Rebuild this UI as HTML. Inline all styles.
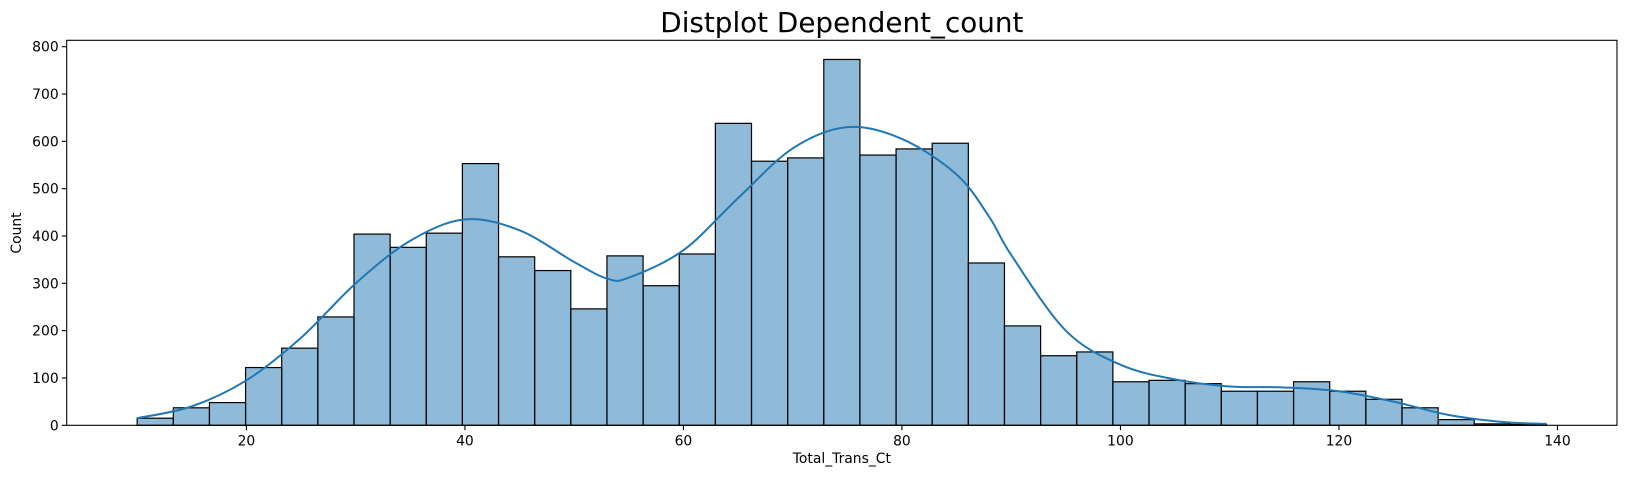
<!DOCTYPE html>
<html><head><meta charset="utf-8"><style>
html,body{margin:0;padding:0;background:#fff;}
svg{display:block;font-family:"DejaVu Sans","Liberation Sans",sans-serif;}
</style></head><body>
<svg id="chart" width="1625" height="478" viewBox="0 0 1625 478"></svg>
<script>
const binStart = 10;
const binEnd = 139;
const counts = [15,37,48,122,163,229,404,376,406,553,356,327,246,358,295,362,638,558,565,773,571,584,596,343,210,147,155,92,95,88,72,72,92,72,55,37,12,3,2];
const kdeX = [10,15,20,25,30,35,40,45,50,53,55,60,65,70,75,80,85,88,90,95,100,105,110,115,120,125,130,135,139];
const kdeY = [15,40,95,185,300,390,435,412,345,310,312,370,480,585,630,605,530,440,360,200,128,97,82,80,72,50,22,7,3];
const xTicks = [20,40,60,80,100,120,140];
const yTicks = [0,100,200,300,400,500,600,700,800];

const L=66.7,R=1617,T=40.3,B=425.3;
const xMin=3.55,xMax=145.45,yMax=813.5;
const sx=v=>L+(v-xMin)/(xMax-xMin)*(R-L);
const sy=v=>B-v/yMax*(B-T);
const NS='http://www.w3.org/2000/svg';
const svg=document.getElementById('chart');
function mk(tag,attrs,parent){const e=document.createElementNS(NS,tag);for(const k in attrs)e.setAttribute(k,attrs[k]);(parent||svg).appendChild(e);return e;}

const bw=(binEnd-binStart)/counts.length;
const bars=mk('g',{});


counts.forEach((c,i)=>{
  const x0=sx(binStart+i*bw),x1=sx(binStart+(i+1)*bw);
  const r=mk('rect',{x:x0,y:sy(c),width:x1-x0,height:sy(0)-sy(c),fill:'rgba(31,119,180,0.5)',stroke:'#000','stroke-width':1.2},bars);
  
  
});

const pts=kdeX.map((v,i)=>[sx(v),sy(kdeY[i])]);
let d='M'+pts[0][0]+','+pts[0][1];
for(let i=0;i<pts.length-1;i++){
  const p0=pts[Math.max(0,i-1)],p1=pts[i],p2=pts[i+1],p3=pts[Math.min(pts.length-1,i+2)];
  const c1=[p1[0]+(p2[0]-p0[0])/6,p1[1]+(p2[1]-p0[1])/6];
  const c2=[p2[0]-(p3[0]-p1[0])/6,p2[1]-(p3[1]-p1[1])/6];
  d+=` C${c1[0]},${c1[1]} ${c2[0]},${c2[1]} ${p2[0]},${p2[1]}`;
}
const kde=mk('path',{d:d,fill:'none',stroke:'#1f77b4','stroke-width':2});



const frame=mk('rect',{x:L,y:T,width:R-L,height:B-T,fill:'none',stroke:'#000','stroke-width':1.1});



xTicks.forEach(t=>{
  const x=sx(t);
  mk('line',{x1:x,x2:x,y1:B,y2:B+4.9,stroke:'#000','stroke-width':1.1});
  const tx=mk('text',{x:x,y:B+20,'text-anchor':'middle','font-size':13.9,fill:'#000'});
  tx.textContent=t;
  
  
});
yTicks.forEach(t=>{
  const y=sy(t);
  mk('line',{x1:L-4.9,x2:L,y1:y,y2:y,stroke:'#000','stroke-width':1.1});
  const tx=mk('text',{x:L-8,y:y+5,'text-anchor':'end','font-size':13.9,fill:'#000'});
  tx.textContent=t;
  
  
});
</script>
<div style="position:absolute;left:0;top:0;width:1625px;height:478px;pointer-events:none;">
<svg width="1625" height="478" style="position:absolute;left:0;top:0">
<text x="841.85" y="32" text-anchor="middle" font-size="27.8" font-family="DejaVu Sans, Liberation Sans, sans-serif">Distplot Dependent_count</text>
<text x="841.85" y="463" text-anchor="middle" font-size="13.9" font-family="DejaVu Sans, Liberation Sans, sans-serif">Total_Trans_Ct</text>
<text x="0" y="0" transform="translate(21,233) rotate(-90)" text-anchor="middle" font-size="13.9" font-family="DejaVu Sans, Liberation Sans, sans-serif">Count</text>
</svg>
</div>
</body></html>
